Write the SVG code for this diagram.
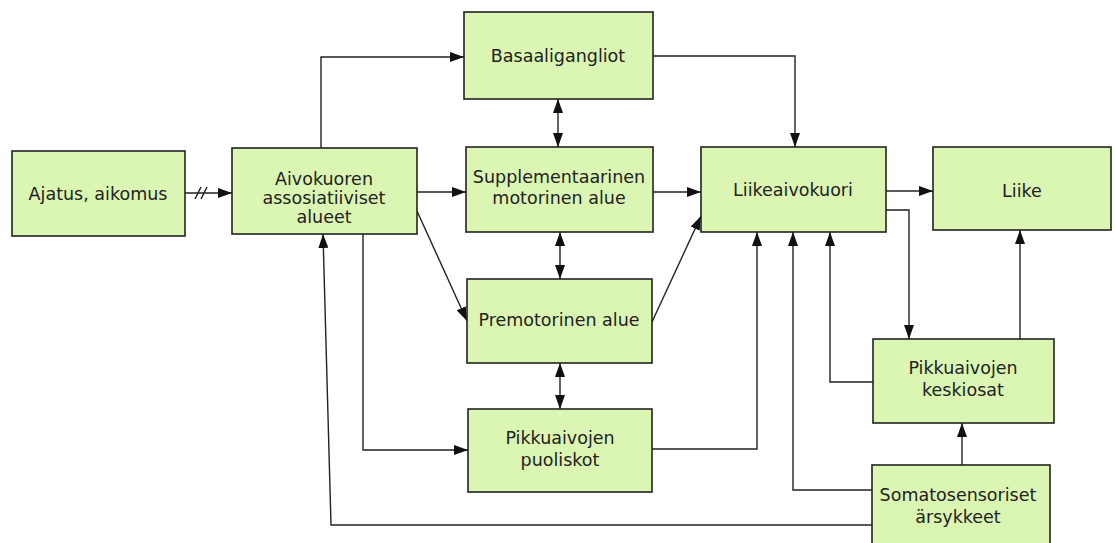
<svg xmlns="http://www.w3.org/2000/svg" width="1115" height="543" viewBox="0 0 1115 543">
<defs>
<marker id="ah" viewBox="0 0 14 10" refX="14" refY="5" markerWidth="14" markerHeight="10" markerUnits="userSpaceOnUse" orient="auto-start-reverse">
<path d="M0,0 L14,5 L0,10 Z" fill="#111"/>
</marker>
<style>
.box{fill:#dbf5b2;stroke:#222;stroke-width:1.6}
.t{font-family:"DejaVu Sans",Verdana,sans-serif;font-size:17.5px;fill:#222;text-anchor:middle}
.c{fill:none;stroke:#222;stroke-width:1.4}
.a{marker-end:url(#ah)}
.b{marker-start:url(#ah);marker-end:url(#ah)}
</style>
</defs>
<rect width="1115" height="543" fill="#fff"/>
<g id="connectors">
<path class="c a" d="M185,193 L232,193"/>
<path d="M195,199 L201,187 M201,199 L207,187" stroke="#222" stroke-width="1.5" fill="none"/>
<path class="c a" d="M321,148 L321,57 L464,57"/>
<path class="c a" d="M417,192 L466,192"/>
<path class="c a" d="M417,211 L467,321"/>
<path class="c a" d="M363,234 L363,450 L468,450"/>
<path class="c a" d="M872,525 L331,525 L323,234"/>
<path class="c b" d="M558,99 L558,147"/>
<path class="c b" d="M560,232 L560,279"/>
<path class="c b" d="M560,363 L560,409"/>
<path class="c a" d="M653,56 L795,56 L795,147"/>
<path class="c a" d="M653,192 L701,192"/>
<path class="c a" d="M652,322 L701,216"/>
<path class="c a" d="M652,449 L757,449 L757,232"/>
<path class="c a" d="M872,490 L793,490 L793,232"/>
<path class="c a" d="M873,382 L830,382 L830,232"/>
<path class="c a" d="M886,191 L933,191"/>
<path class="c a" d="M886,210 L909,210 L909,339"/>
<path class="c a" d="M1020,339 L1020,230"/>
<path class="c a" d="M962,465 L962,423"/>
</g>
<g id="n-ajatus"><rect class="box" x="12" y="151" width="173" height="85"/><text class="t" x="98" y="200">Ajatus, aikomus</text></g>
<g id="n-aivokuoren"><rect class="box" x="232" y="148" width="185" height="86"/><text class="t" x="324" y="185">Aivokuoren</text><text class="t" x="324" y="204">assosiatiiviset</text><text class="t" x="324" y="223">alueet</text></g>
<g id="n-basaali"><rect class="box" x="464" y="12" width="189" height="87"/><text class="t" x="558" y="62">Basaaligangliot</text></g>
<g id="n-supp"><rect class="box" x="466" y="147" width="187" height="85"/><text class="t" x="559" y="183">Supplementaarinen</text><text class="t" x="559" y="204">motorinen alue</text></g>
<g id="n-premotor"><rect class="box" x="467" y="279" width="185" height="84"/><text class="t" x="559" y="326">Premotorinen alue</text></g>
<g id="n-puoliskot"><rect class="box" x="468" y="409" width="184" height="83"/><text class="t" x="560" y="444">Pikkuaivojen</text><text class="t" x="560" y="466">puoliskot</text></g>
<g id="n-liikeaivokuori"><rect class="box" x="701" y="147" width="185" height="85"/><text class="t" x="793" y="196">Liikeaivokuori</text></g>
<g id="n-liike"><rect class="box" x="933" y="147" width="178" height="83"/><text class="t" x="1022" y="197">Liike</text></g>
<g id="n-keskiosat"><rect class="box" x="873" y="339" width="181" height="84"/><text class="t" x="963" y="374">Pikkuaivojen</text><text class="t" x="963" y="396">keskiosat</text></g>
<g id="n-somato"><rect class="box" x="872" y="465" width="178" height="90"/><text class="t" x="958" y="501">Somatosensoriset</text><text class="t" x="958" y="523">ärsykkeet</text></g>
</svg>
